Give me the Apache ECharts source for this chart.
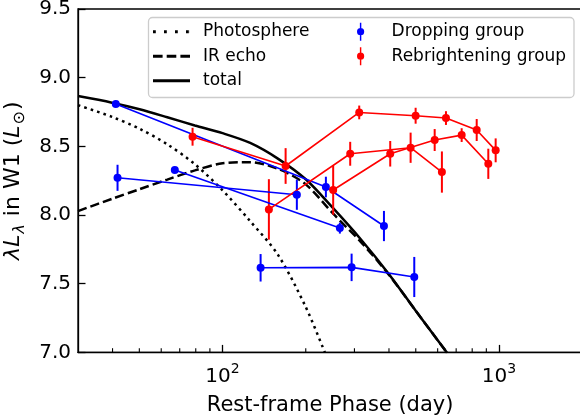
<!DOCTYPE html>
<html><head><meta charset="utf-8">
<script src="https://cdn.jsdelivr.net/npm/echarts@6/dist/echarts.min.js"></script>
<style>html,body{margin:0;padding:0;background:#fff}#c{width:580px;height:418px}</style>
</head><body><div id="c"></div>
<script>
// ---- model curves (rest-frame day, log10 lambda L_lambda) ----
const photoT = [30, 39.8, 50.1, 63.1, 79.4, 100, 125.9, 158.5, 199.5, 234.4];
const photoV = [8.80, 8.715, 8.628, 8.515, 8.37, 8.18, 7.955, 7.712, 7.335, 7.0];
const echoT = [30, 39.8, 50.1, 63.1, 79.4, 100, 125.9, 158.5, 199.5, 251.2, 316.2, 398.1, 501.2, 631, 648.6];
const echoV = [8.029, 8.118, 8.188, 8.258, 8.325, 8.377, 8.385, 8.337, 8.225, 8.01, 7.805, 7.57, 7.30, 7.03, 7.0];
const totalT = [30, 39.8, 50.1, 63.1, 79.4, 100, 125.9, 158.5, 199.5, 251.2, 316.2, 398.1, 501.2, 631, 648.6];
const totalV = [8.866, 8.818, 8.770, 8.712, 8.652, 8.596, 8.525, 8.411, 8.262, 8.05, 7.824, 7.575, 7.30, 7.03, 6.998];

// ---- Dropping group (one array set per object) ----
const dropA_T = [41.1, 236.5, 383.6];
const dropA_V = [8.808, 8.204, 7.92];
const dropA_E = [0.0, 0.075, 0.11];
const dropB_T = [41.7, 185.7];
const dropB_V = [8.271, 8.148];
const dropB_E = [0.095, 0.11];
const dropC_T = [67.2, 265.7];
const dropC_V = [8.328, 7.905];
const dropC_E = [0.0, 0.04];
const dropD_T = [137.3, 293, 493.8];
const dropD_V = [7.616, 7.619, 7.549];
const dropD_E = [0.10, 0.10, 0.146];

// ---- Rebrightening group ----
const rebA_T = [77.9, 169.1, 312.2, 499.4, 643, 830.6, 972.7];
const rebA_V = [8.570, 8.357, 8.747, 8.723, 8.706, 8.619, 8.471];
const rebA_E = [0.065, 0.13, 0.05, 0.058, 0.05, 0.08, 0.087];
const rebB_T = [147.1, 289.6, 479, 621.6];
const rebB_V = [8.041, 8.446, 8.490, 8.313];
const rebB_E = [0.22, 0.087, 0.11, 0.15];
const rebC_T = [251.3, 404.2, 585.3, 732.8, 914.9];
const rebC_V = [8.182, 8.446, 8.546, 8.582, 8.373];
const rebC_E = [0.18, 0.093, 0.08, 0.05, 0.11];

// ---- axes ----
const xMin = 30, xMax = 2000;
const yMin = 7.0, yMax = 9.5, yStep = 0.5;
const minorTicks = [40, 50, 60, 70, 80, 90, 200, 300, 400, 500, 600, 700, 800, 900];

const FONT = 'DejaVu Sans';
const BLUE = '#0000ff', RED = '#ff0000';
const DOT = [2.6, 4.1], DASH = [9.2, 4];

function pairs(T, V) { return T.map((t, i) => [t, V[i]]); }
function triples(T, V, E) { return T.map((t, i) => [t, V[i], E[i]]); }

function pointSeries(name, color, T, V) {
  return {
    name, type: 'line', data: pairs(T, V),
    symbol: 'circle', symbolSize: 8, showSymbol: true,
    itemStyle: { color }, lineStyle: { color, width: 1.6 },
    z: 4, silent: true
  };
}
function errSeries(color, list) {
  return {
    type: 'custom', coordinateSystem: 'cartesian2d', encode: { x: 0, y: 1 },
    data: list, z: 4, silent: true,
    renderItem: function (p, api) {
      const t = api.value(0), v = api.value(1), e = api.value(2);
      const lo = api.coord([t, v - e]), hi = api.coord([t, v + e]);
      return { type: 'line', shape: { x1: lo[0], y1: lo[1], x2: hi[0], y2: hi[1] },
               style: { stroke: color, lineWidth: 2 } };
    }
  };
}

const chart = echarts.init(document.getElementById('c'), null, { renderer: 'canvas' });

const series = [
  { name: 'Photosphere', type: 'line', data: pairs(photoT, photoV), symbol: 'none', smooth: 0.3,
    itemStyle: { color: '#000' }, lineStyle: { color: '#000', width: 2.5, type: DOT, cap: 'butt' }, z: 3, silent: true },
  { name: 'IR echo', type: 'line', data: pairs(echoT, echoV), symbol: 'none', smooth: 0.3,
    itemStyle: { color: '#000' }, lineStyle: { color: '#000', width: 2.5, type: DASH, cap: 'butt' }, z: 3, silent: true },
  { name: 'total', type: 'line', data: pairs(totalT, totalV), symbol: 'none', smooth: 0.3,
    itemStyle: { color: '#000' }, lineStyle: { color: '#000', width: 2.5 }, z: 3, silent: true },
  pointSeries('Dropping group', BLUE, dropA_T, dropA_V),
  pointSeries('Dropping group', BLUE, dropB_T, dropB_V),
  pointSeries('Dropping group', BLUE, dropC_T, dropC_V),
  pointSeries('Dropping group', BLUE, dropD_T, dropD_V),
  errSeries(BLUE, [].concat(triples(dropA_T, dropA_V, dropA_E), triples(dropB_T, dropB_V, dropB_E),
                            triples(dropC_T, dropC_V, dropC_E), triples(dropD_T, dropD_V, dropD_E))),
  pointSeries('Rebrightening group', RED, rebA_T, rebA_V),
  pointSeries('Rebrightening group', RED, rebB_T, rebB_V),
  pointSeries('Rebrightening group', RED, rebC_T, rebC_V),
  errSeries(RED, [].concat(triples(rebA_T, rebA_V, rebA_E), triples(rebB_T, rebB_V, rebB_E),
                           triples(rebC_T, rebC_V, rebC_E))),
  { type: 'custom', coordinateSystem: 'cartesian2d', encode: { x: 0, y: 1 }, silent: true, clip: false, z: 6,
    data: minorTicks.map(v => [v, yMin]),
    renderItem: function (p, api) {
      const pt = api.coord([api.value(0), api.value(1)]);
      return { type: 'line', shape: { x1: pt[0], y1: pt[1], x2: pt[0], y2: pt[1] - 4.2 },
               style: { stroke: '#000', lineWidth: 1.1 } };
    } }
];

const errIcon = 'path://M3.2,0 H4.8 V20 H3.2 Z M0,10 A4,4 0 1,1 8,10 A4,4 0 1,1 0,10 Z';
const dotIcon = 'path://M0,0 h2.8 v3 h-2.8 Z M11,0 h2.8 v3 h-2.8 Z M22,0 h2.8 v3 h-2.8 Z M33,0 h2.8 v3 h-2.8 Z M36.9,0 h0.1 v3 h-0.1 Z';
const dashIcon = 'path://M0,0 h9.6 v3 h-9.6 Z M13.7,0 h9.6 v3 h-9.6 Z M27.4,0 h9.6 v3 h-9.6 Z';
const solidIcon = 'path://M0,0 h37 v3 h-37 Z';

chart.setOption({
  animation: false,
  textStyle: { fontFamily: FONT },
  grid: { left: 78, right: -2.2, top: 9, bottom: 65.6, outerBoundsMode: 'none', containLabel: false,
          show: true, borderColor: '#000', borderWidth: 1.3, backgroundColor: 'transparent' },
  graphic: [{
    type: 'rect', z: 5, silent: true,
    shape: { x: 148.5, y: 17.5, width: 425.5, height: 80, r: 4 },
    style: { fill: 'rgba(255,255,255,0.8)', stroke: '#cccccc', lineWidth: 1.3 }
  }],
  legend: [
    { data: [
        { name: 'Photosphere', icon: dotIcon },
        { name: 'IR echo', icon: dashIcon },
        { name: 'total', icon: solidIcon }
      ],
      orient: 'vertical', left: 153, top: 21.7, padding: 0,
      itemWidth: 37, itemHeight: 3, itemGap: 4.5, z: 10, selectedMode: false,
      itemStyle: { color: '#000', borderWidth: 0 },
      textStyle: { fontSize: 17, color: '#000', fontFamily: FONT, lineHeight: 20, padding: [0, 0, 0, 8] } },
    { data: [{ name: 'Dropping group', icon: errIcon }, { name: 'Rebrightening group', icon: errIcon }],
      orient: 'vertical', left: 357, top: 21.7, padding: 0,
      itemWidth: 8, itemHeight: 18, itemGap: 4.5, z: 10, selectedMode: false,
      textStyle: { fontSize: 17, color: '#000', fontFamily: FONT, lineHeight: 20, padding: [0, 0, 0, 22] } }
  ],
  xAxis: {
    type: 'log', logBase: 10, min: xMin, max: xMax,
    name: 'Rest-frame Phase (day)', nameLocation: 'middle', nameGap: 38,
    nameTextStyle: { fontSize: 21, color: '#000', fontFamily: FONT },
    axisLine: { show: true, onZero: false, lineStyle: { color: '#000', width: 1.3 } },
    axisTick: { show: true, inside: true, length: 7.5, lineStyle: { color: '#000', width: 1.3 } },
    splitLine: { show: false }, minorTick: { show: false },
    axisLabel: {
      showMinLabel: false, showMaxLabel: false, margin: 10,
      fontSize: 20, color: '#000', fontFamily: FONT, lineHeight: 28,
      formatter: function (v) {
        const e = Math.log10(v);
        if (Math.abs(e - Math.round(e)) > 1e-6) return '';
        return '{b|10}{sup|' + Math.round(e) + '}';
      },
      rich: { b: { fontSize: 20, fontFamily: FONT, color: '#000', lineHeight: 28 },
              sup: { fontSize: 14, fontFamily: FONT, color: '#000', verticalAlign: 'top', lineHeight: 16 } }
    }
  },
  yAxis: {
    type: 'value', min: yMin, max: yMax, interval: yStep,
    name: '{i|λL}{s|λ}{n| in W1 (}{i|L}{o|⊙}{n|)}', nameLocation: 'middle', nameGap: 45, nameRotate: 90,
    nameTextStyle: { fontSize: 22, color: '#000', fontFamily: FONT, lineHeight: 30,
      rich: { i: { fontSize: 22, fontStyle: 'italic', fontFamily: FONT, color: '#000', lineHeight: 30 },
              n: { fontSize: 22, fontFamily: FONT, color: '#000', lineHeight: 30 },
              s: { fontSize: 16, fontStyle: 'italic', fontFamily: FONT, color: '#000', verticalAlign: 'bottom', lineHeight: 18, padding: [0, 1, 0, 1] },
              o: { fontSize: 16, fontFamily: FONT, color: '#000', verticalAlign: 'bottom', lineHeight: 18, padding: [0, 1, 0, 1] } } },
    axisLine: { show: true, lineStyle: { color: '#000', width: 1.3 } },
    axisTick: { show: true, inside: true, length: 7.5, lineStyle: { color: '#000', width: 1.3 } },
    splitLine: { show: false },
    axisLabel: { fontSize: 20, color: '#000', fontFamily: FONT, margin: 7,
      formatter: v => v.toFixed(1) }
  },
  series
});
</script></body></html>
